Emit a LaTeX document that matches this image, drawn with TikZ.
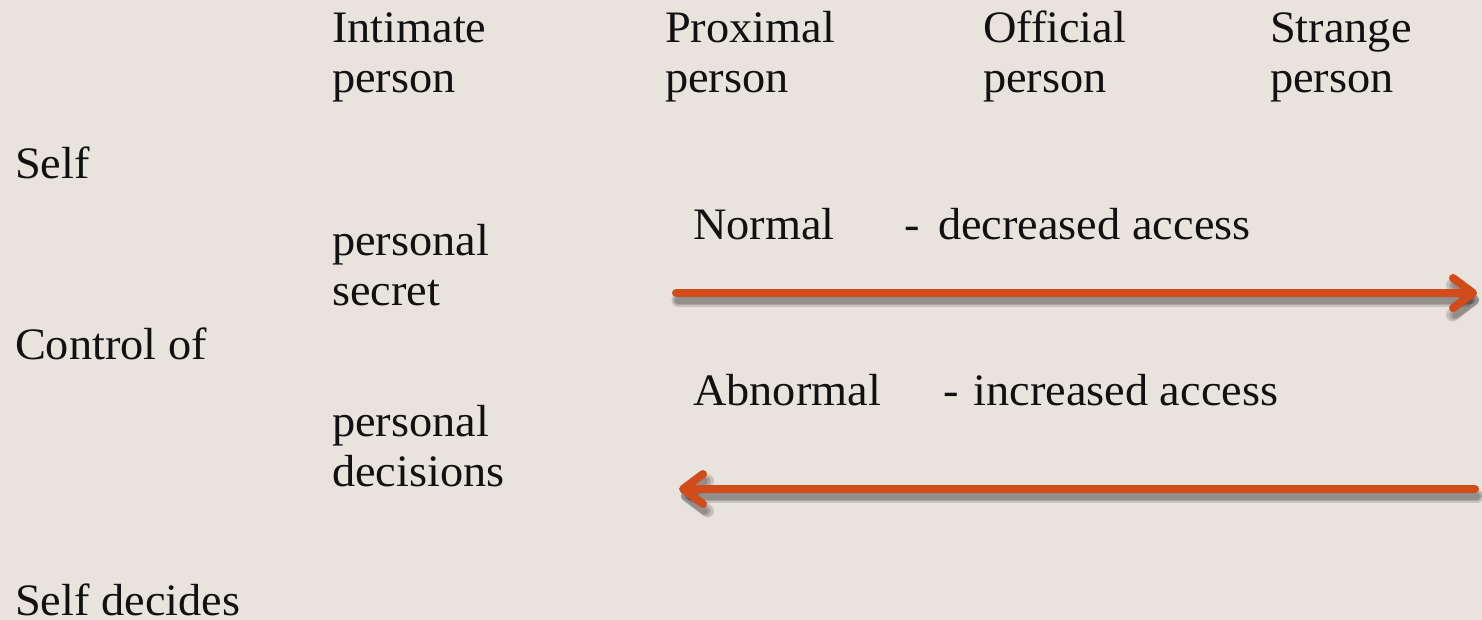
\documentclass[tikz,border=0pt]{standalone}
\usepackage{fontspec}
\setmainfont{Liberation Serif}[FakeStretch=1.03]
\usetikzlibrary{arrows.meta,calc}
\definecolor{paper}{RGB}{232,227,220}
\definecolor{rust}{RGB}{211,75,27}
\definecolor{ink}{RGB}{17,17,17}
\tikzset{
  lbl/.style={anchor=base west, inner sep=0pt, outer sep=0pt, text=ink,
    font=\fontsize{45}{50}\selectfont, align=left},
  flow/.style={draw=rust, line width=8pt, line cap=round,
    -{Straight Barb[length=20pt, width=30pt, round]}},
  flowshadow/.style={draw=black, line width=#1, line cap=round, opacity=0.14,
    -{Straight Barb[length=20pt, width=30pt, round]}},
}
\begin{document}
\begin{tikzpicture}[x=1pt,y=-1pt]
\useasboundingbox (0,0) rectangle (1482,620);
\fill[paper] (0,0) rectangle (1482,620);

% column headings (placed by the baseline of their last line)
\node[lbl] (intimate) at (332,93) {Intimate\\person};
\node[lbl] (proximal) at (665,93) {Proximal\\person};
\node[lbl] (official) at (983,93) {Official\\person};
\node[lbl] (strange)  at (1270,93) {Strange\\person};

% row labels
\node[lbl] (self)    at (15,179) {Self};
\node[lbl] (control) at (15,359) {Control of};
\node[lbl] (decides) at (15,615) {Self decides};

\node[lbl] (secret)    at (332,305) {personal\\secret};
\node[lbl] (decisions) at (332,486) {personal\\decisions};

% access descriptions
\node[lbl] (normal)   at (693,240) {Normal\hspace{70pt}-\hspace{18pt}decreased access};
\node[lbl] (abnormal) at (693,405) {Abnormal\hspace{63pt}-\hspace{14pt}increased access};

% arrow end points
\coordinate (n1) at (676,293);
\coordinate (n2) at (1477,293);
\coordinate (a1) at (1475,489);
\coordinate (a2) at (679,489);

% soft drop shadows under the arrows, offset down and to the right
\foreach \w in {13pt,10pt,7pt}{
  \draw[flowshadow=\w] ($(n1)+(2,7)$) -- ($(n2)+(2,7)$);
  \draw[flowshadow=\w] ($(a1)+(2,7)$) -- ($(a2)+(2,7)$);
}

% arrows
\draw[flow] (n1) -- (n2);
\draw[flow] (a1) -- (a2);
\end{tikzpicture}
\end{document}
